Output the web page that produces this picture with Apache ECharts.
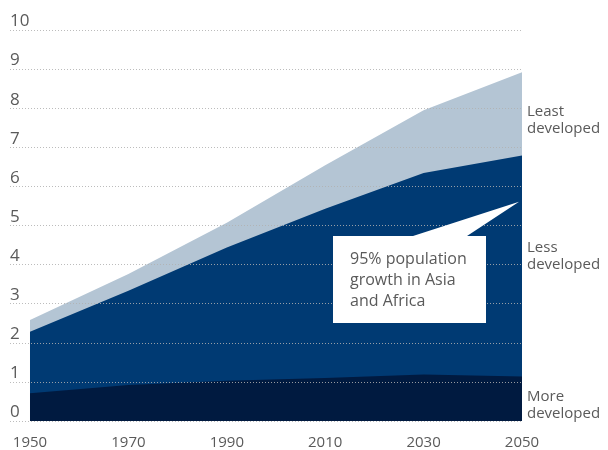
<!DOCTYPE html>
<html>
<head>
<meta charset="utf-8">
<script src="https://cdn.jsdelivr.net/npm/echarts@6/dist/echarts.min.js"></script>
<style>html,body{margin:0;padding:0;background:#fff}#c{width:608px;height:450px}</style>
</head>
<body>
<div id="c"></div>
<script>
var years = [1950, 1970, 1990, 2010, 2030, 2050];
var moreDeveloped = [0.71, 0.92, 1.03, 1.10, 1.19, 1.14];
var lessDeveloped = [1.57, 2.41, 3.41, 4.33, 5.15, 5.65];
var leastDeveloped = [0.30, 0.43, 0.63, 1.11, 1.61, 2.13];
var xTickLabels = [1950, 1970, 1990, 2010, 2030, 2050];
var yTickValues = [0, 1, 2, 3, 4, 5, 6, 7, 8, 9, 10];
var seriesNames = ['More developed', 'Less developed', 'Least developed'];
var seriesColors = ['#001a40', '#003a73', '#b4c5d4'];

var FONT = "'Open Sans', 'Noto Sans', sans-serif";
var TXT = '#5a5a5a';

// cumulative stacking (value x-axis), drawn back to front
var dataSets = [moreDeveloped, lessDeveloped, leastDeveloped];
var cum = [];
var running = years.map(function () { return 0; });
dataSets.forEach(function (d) {
  running = running.map(function (r, i) { return r + d[i]; });
  cum.push(running.slice());
});

var chart = echarts.init(document.getElementById('c'), null, { renderer: 'canvas' });
var series = [];
for (var k = dataSets.length - 1; k >= 0; k--) {
  series.push({
    name: seriesNames[k], type: 'line',
    data: years.map(function (y, i) { return [y, cum[k][i]]; }),
    symbol: 'none', smooth: false,
    lineStyle: { width: 0 },
    areaStyle: { color: seriesColors[k], opacity: 1, origin: 'start' },
    itemStyle: { color: seriesColors[k] },
    z: 2
  });
}
// dotted gridlines drawn over the areas
series.push({
  name: 'grid', type: 'line', data: [], z: 5, silent: true,
  markLine: {
    silent: true, symbol: 'none', animation: false,
    label: { show: false },
    lineStyle: { color: '#b0b0b0', width: 1, type: [1, 2], opacity: 0.85 },
    emphasis: { disabled: true },
    data: yTickValues.map(function (v) { return { yAxis: v }; })
  }
});

chart.setOption({
  animation: false,
  grid: { left: 10, right: 86, top: 30, bottom: 28, containLabel: false },
  xAxis: {
    type: 'value', min: 1945.935, max: 2050,
    axisLine: { show: false }, axisTick: { show: false }, splitLine: { show: false },
    axisLabel: { customValues: xTickLabels, margin: 14, color: TXT, fontFamily: FONT, fontSize: 15, formatter: function (v) { return String(v); } }
  },
  yAxis: {
    type: 'value', min: 0, max: 10, interval: 1,
    axisLine: { show: false }, axisTick: { show: false },
    splitLine: { show: false },
    axisLabel: { inside: true, margin: 0, align: 'left', verticalAlign: 'bottom', padding: [0, 0, 0, 0], color: TXT, fontFamily: FONT, fontSize: 17 }
  },
  series: series
});

// annotations
var tip = chart.convertToPixel({ xAxisIndex: 0, yAxisIndex: 0 }, [2049.4, 5.61]);
chart.setOption({
  graphic: [
    { type: 'polygon', z: 10, shape: { points: [[333, 236], [413, 236], tip, [467, 236], [486, 236], [486, 323], [333, 323]] }, style: { fill: '#ffffff' } },
    { type: 'text', z: 11, left: 350, top: 249, style: { text: '95% population\ngrowth in Asia\nand Africa', font: '16px ' + FONT, fill: TXT, lineHeight: 21 } },
    { type: 'text', z: 11, left: 527, top: 103, style: { text: 'Least\ndeveloped', font: '15px ' + FONT, fill: TXT, lineHeight: 17 } },
    { type: 'text', z: 11, left: 527, top: 239, style: { text: 'Less\ndeveloped', font: '15px ' + FONT, fill: TXT, lineHeight: 17 } },
    { type: 'text', z: 11, left: 527, top: 388, style: { text: 'More\ndeveloped', font: '15px ' + FONT, fill: TXT, lineHeight: 17 } }
  ]
});
</script>
</body>
</html>
